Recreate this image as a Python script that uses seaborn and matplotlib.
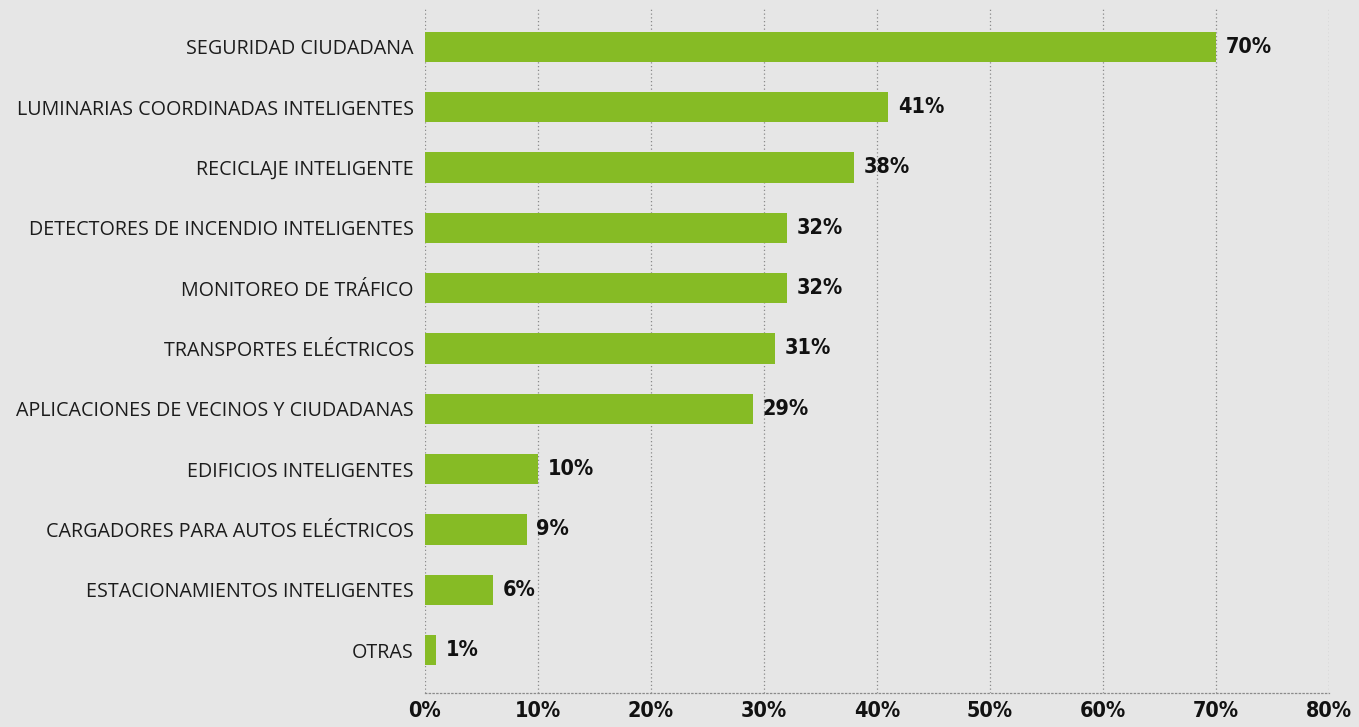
import matplotlib
matplotlib.use("Agg")
import matplotlib.pyplot as plt
import seaborn as sns
import pandas as pd

categories = [
    "SEGURIDAD CIUDADANA",
    "LUMINARIAS COORDINADAS INTELIGENTES",
    "RECICLAJE INTELIGENTE",
    "DETECTORES DE INCENDIO INTELIGENTES",
    "MONITOREO DE TRÁFICO",
    "TRANSPORTES ELÉCTRICOS",
    "APLICACIONES DE VECINOS Y CIUDADANAS",
    "EDIFICIOS INTELIGENTES",
    "CARGADORES PARA AUTOS ELÉCTRICOS",
    "ESTACIONAMIENTOS INTELIGENTES",
    "OTRAS",
]
values = [70, 41, 38, 32, 32, 31, 29, 10, 9, 6, 1]
x_ticks = [0, 10, 20, 30, 40, 50, 60, 70, 80]
x_tick_labels = [f"{t}%" for t in x_ticks]

BG = "#e6e6e6"
GREEN = "#86bb25"
NUM_FONT = dict(family=["DejaVu Sans"], fontweight="bold",
                fontstretch="condensed", fontsize=15.5, color="#111111")

sns.set_theme(style="white")
plt.rcParams["font.family"] = ["Open Sans", "DejaVu Sans"]

df = pd.DataFrame({"categoria": categories, "valor": values})

fig = plt.figure(figsize=(13.59, 7.27), dpi=100, facecolor=BG)
ax = fig.add_axes([0.3127, 0.0468, 0.978 - 0.3127, 0.9904 - 0.0468])
ax.set_facecolor(BG)

sns.barplot(data=df, x="valor", y="categoria", orient="h", color=GREEN,
            width=0.5, saturation=1, linewidth=0, ax=ax, zorder=3)

ax.set_xlim(0, 80)
ax.set_ylim(10.71, -0.66)
ax.set_xticks(x_ticks)
ax.set_xticklabels(x_tick_labels, **NUM_FONT)
ax.set_xlabel("")
ax.set_ylabel("")
ax.tick_params(axis="y", length=0, pad=8, labelsize=14.2, labelcolor="#1c1c1c")
ax.tick_params(axis="x", length=0, pad=6)

ax.xaxis.grid(True, linestyle=(0, (1, 2)), color="#8a8a8a", linewidth=0.9, zorder=0)
ax.yaxis.grid(False)
for side in ["top", "right", "left"]:
    ax.spines[side].set_visible(False)
ax.spines["bottom"].set_linestyle((0, (1, 2)))
ax.spines["bottom"].set_color("#8a8a8a")
ax.spines["bottom"].set_linewidth(0.9)

for i, v in enumerate(values):
    ax.annotate(f"{v}%", xy=(v, i), xytext=(7, 0), textcoords="offset points",
                va="center", ha="left", **NUM_FONT)

fig.savefig("out.png", dpi=100, facecolor=BG)
